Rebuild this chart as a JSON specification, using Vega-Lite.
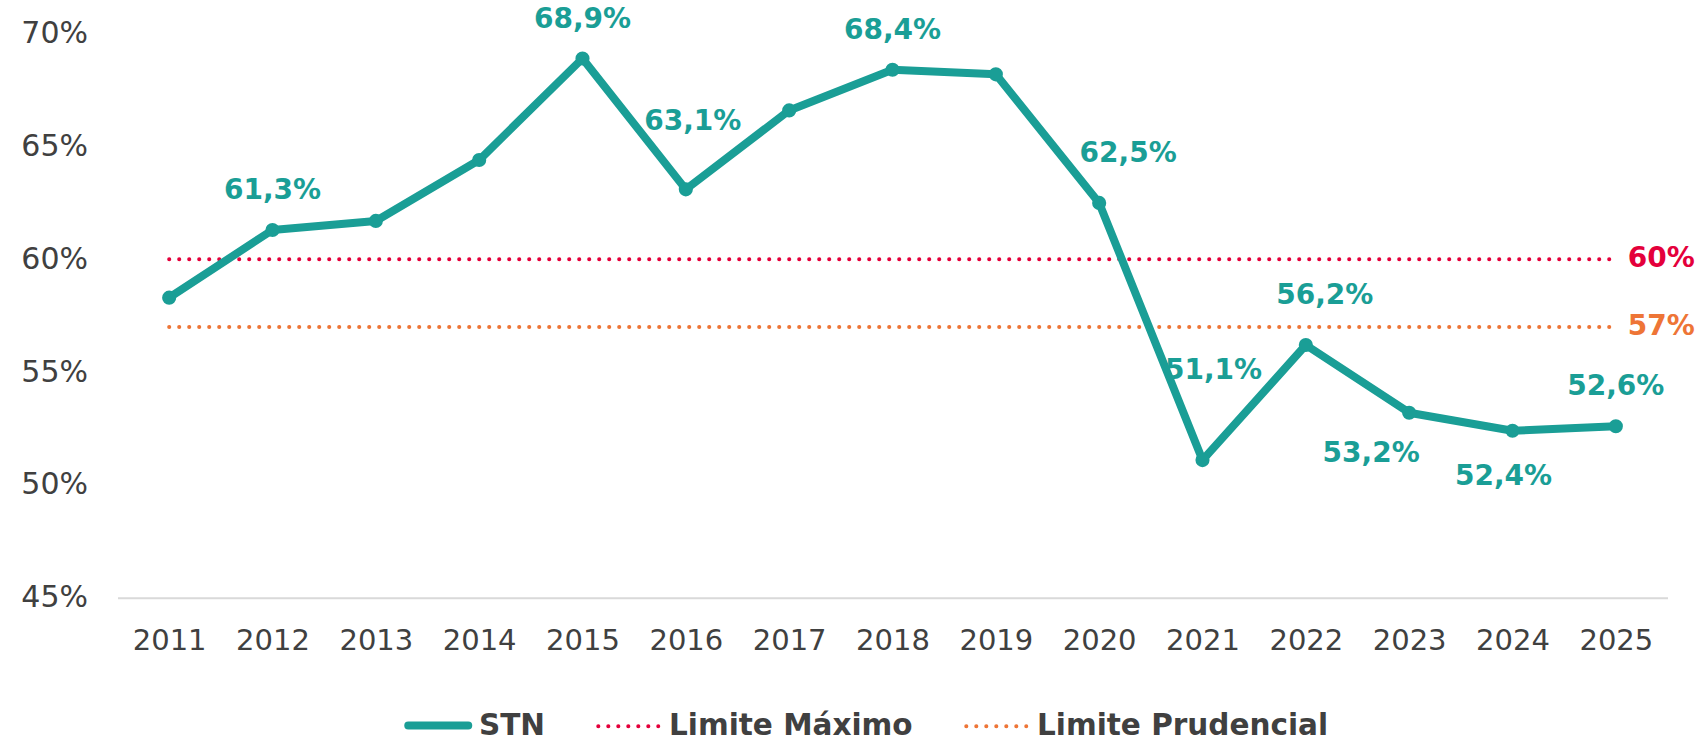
{
  "$schema": "https://vega.github.io/schema/vega-lite/v6.json",
  "width": 1550,
  "height": 564,
  "autosize": {"type": "none"},
  "padding": {"left": 117.5, "top": 33.7, "right": 38.5, "bottom": 143.3},
  "config": {
    "locale": {"number": {"decimal": ",", "thousands": ".", "grouping": [3], "currency": ["", " €"]}},
    "view": {"stroke": null},
    "font": "DejaVu Sans"
  },
  "data": {
    "values": [
      {"year": 2011, "serie": "STN", "value": 0.583},
      {"year": 2012, "serie": "STN", "value": 0.613},
      {"year": 2013, "serie": "STN", "value": 0.617},
      {"year": 2014, "serie": "STN", "value": 0.644},
      {"year": 2015, "serie": "STN", "value": 0.689},
      {"year": 2016, "serie": "STN", "value": 0.631},
      {"year": 2017, "serie": "STN", "value": 0.666},
      {"year": 2018, "serie": "STN", "value": 0.684},
      {"year": 2019, "serie": "STN", "value": 0.682},
      {"year": 2020, "serie": "STN", "value": 0.625},
      {"year": 2021, "serie": "STN", "value": 0.511},
      {"year": 2022, "serie": "STN", "value": 0.562},
      {"year": 2023, "serie": "STN", "value": 0.532},
      {"year": 2024, "serie": "STN", "value": 0.524},
      {"year": 2025, "serie": "STN", "value": 0.526},
      {"year": 2011, "serie": "Limite Máximo", "value": 0.60},
      {"year": 2025, "serie": "Limite Máximo", "value": 0.60},
      {"year": 2011, "serie": "Limite Prudencial", "value": 0.57},
      {"year": 2025, "serie": "Limite Prudencial", "value": 0.57}
    ]
  },
  "encoding": {
    "x": {
      "field": "year", "type": "ordinal",
      "scale": {"type": "point", "padding": 0.5},
      "axis": {
        "title": null, "labelAngle": 0, "ticks": false, "grid": false,
        "domainColor": "#d9d9d9", "domainWidth": 2,
        "labelFont": "DejaVu Sans", "labelFontSize": 29, "labelColor": "#404040",
        "labelPadding": 29
      }
    },
    "y": {
      "field": "value", "type": "quantitative",
      "scale": {"domain": [0.45, 0.70], "nice": false, "zero": false},
      "axis": {
        "title": null, "values": [0.45, 0.5, 0.55, 0.6, 0.65, 0.7], "format": ".0%",
        "ticks": false, "domain": false, "grid": false,
        "labelFont": "DejaVu Sans", "labelFontSize": 30, "labelColor": "#404040",
        "labelPadding": 30
      }
    }
  },
  "layer": [
    {
      "mark": {"type": "line", "strokeWidth": 4, "strokeCap": "round"},
      "encoding": {
        "color": {
          "field": "serie", "type": "nominal",
          "scale": {"domain": ["STN", "Limite Máximo", "Limite Prudencial"], "range": ["#1A9E96", "#E4003B", "#EE7536"]},
          "legend": {
            "title": null, "orient": "none", "legendX": 306, "legendY": 677, "direction": "horizontal",
            "symbolType": "stroke", "symbolSize": 3600, "labelFont": "DejaVu Sans", "labelFontWeight": "bold",
            "labelFontSize": 29.5, "labelColor": "#404040", "labelOffset": 26, "columnPadding": 44, "labelLimit": 500,
            "encode": {"symbols": {"update": {"strokeCap": {"value": "round"}, "strokeWidth": {"signal": "datum.value === 'STN' ? 8 : 4"}}}}
          }
        },
        "strokeDash": {
          "field": "serie", "type": "nominal",
          "scale": {"domain": ["STN", "Limite Máximo", "Limite Prudencial"], "range": [[1, 0], [0.1, 9.9], [0.1, 9.9]]},
          "legend": {
            "title": null, "orient": "none", "legendX": 306, "legendY": 677, "direction": "horizontal",
            "symbolType": "stroke", "symbolSize": 3600, "labelFont": "DejaVu Sans", "labelFontWeight": "bold",
            "labelFontSize": 29.5, "labelColor": "#404040", "labelOffset": 26, "columnPadding": 44, "labelLimit": 500,
            "encode": {"symbols": {"update": {"strokeCap": {"value": "round"}, "strokeWidth": {"signal": "datum.value === 'STN' ? 8 : 4"}}}}
          }
        }
      }
    },
    {
      "transform": [{"filter": "datum.serie === 'STN'"}],
      "mark": {"type": "line", "strokeWidth": 8, "strokeCap": "round", "strokeJoin": "round", "color": "#1A9E96"},
      "encoding": {}
    },
    {
      "transform": [{"filter": "datum.serie === 'STN'"}],
      "mark": {"type": "point", "filled": true, "size": 200, "opacity": 1, "color": "#1A9E96"},
      "encoding": {}
    },
    {
      "transform": [{"filter": "datum.serie === 'STN'"}, {"filter": {"field": "year", "oneOf": [2012, 2015, 2018, 2025]}}],
      "mark": {"type": "text", "font": "DejaVu Sans", "fontWeight": "bold", "fontSize": 28, "color": "#1A9E96", "baseline": "middle", "dy": -39},
      "encoding": {"text": {"field": "value", "type": "quantitative", "format": ".1%"}}
    },
    {
      "transform": [{"filter": "datum.serie === 'STN'"}, {"filter": {"field": "year", "oneOf": [2020]}}],
      "mark": {"type": "text", "font": "DejaVu Sans", "fontWeight": "bold", "fontSize": 28, "color": "#1A9E96", "baseline": "middle", "dy": -49, "dx": 29},
      "encoding": {"text": {"field": "value", "type": "quantitative", "format": ".1%"}}
    },
    {
      "transform": [{"filter": "datum.serie === 'STN'"}, {"filter": {"field": "year", "oneOf": [2022]}}],
      "mark": {"type": "text", "font": "DejaVu Sans", "fontWeight": "bold", "fontSize": 28, "color": "#1A9E96", "baseline": "middle", "dy": -49, "dx": 19},
      "encoding": {"text": {"field": "value", "type": "quantitative", "format": ".1%"}}
    },
    {
      "transform": [{"filter": "datum.serie === 'STN'"}, {"filter": {"field": "year", "oneOf": [2016]}}],
      "mark": {"type": "text", "font": "DejaVu Sans", "fontWeight": "bold", "fontSize": 28, "color": "#1A9E96", "baseline": "middle", "dy": -67, "dx": 7},
      "encoding": {"text": {"field": "value", "type": "quantitative", "format": ".1%"}}
    },
    {
      "transform": [{"filter": "datum.serie === 'STN'"}, {"filter": {"field": "year", "oneOf": [2021]}}],
      "mark": {"type": "text", "font": "DejaVu Sans", "fontWeight": "bold", "fontSize": 28, "color": "#1A9E96", "baseline": "middle", "dy": -89, "dx": 11},
      "encoding": {"text": {"field": "value", "type": "quantitative", "format": ".1%"}}
    },
    {
      "transform": [{"filter": "datum.serie === 'STN'"}, {"filter": {"field": "year", "oneOf": [2023]}}],
      "mark": {"type": "text", "font": "DejaVu Sans", "fontWeight": "bold", "fontSize": 28, "color": "#1A9E96", "baseline": "middle", "dy": 41, "dx": -38},
      "encoding": {"text": {"field": "value", "type": "quantitative", "format": ".1%"}}
    },
    {
      "transform": [{"filter": "datum.serie === 'STN'"}, {"filter": {"field": "year", "oneOf": [2024]}}],
      "mark": {"type": "text", "font": "DejaVu Sans", "fontWeight": "bold", "fontSize": 28, "color": "#1A9E96", "baseline": "middle", "dy": 46, "dx": -9},
      "encoding": {"text": {"field": "value", "type": "quantitative", "format": ".1%"}}
    },
    {
      "transform": [{"filter": "datum.serie === 'Limite Máximo' && datum.year === 2025"}],
      "mark": {"type": "text", "font": "DejaVu Sans", "fontWeight": "bold", "fontSize": 28, "color": "#E4003B", "baseline": "middle", "align": "left", "dx": 12},
      "encoding": {"text": {"field": "value", "type": "quantitative", "format": ".0%"}}
    },
    {
      "transform": [{"filter": "datum.serie === 'Limite Prudencial' && datum.year === 2025"}],
      "mark": {"type": "text", "font": "DejaVu Sans", "fontWeight": "bold", "fontSize": 28, "color": "#EE7536", "baseline": "middle", "align": "left", "dx": 12},
      "encoding": {"text": {"field": "value", "type": "quantitative", "format": ".0%"}}
    }
  ]
}
